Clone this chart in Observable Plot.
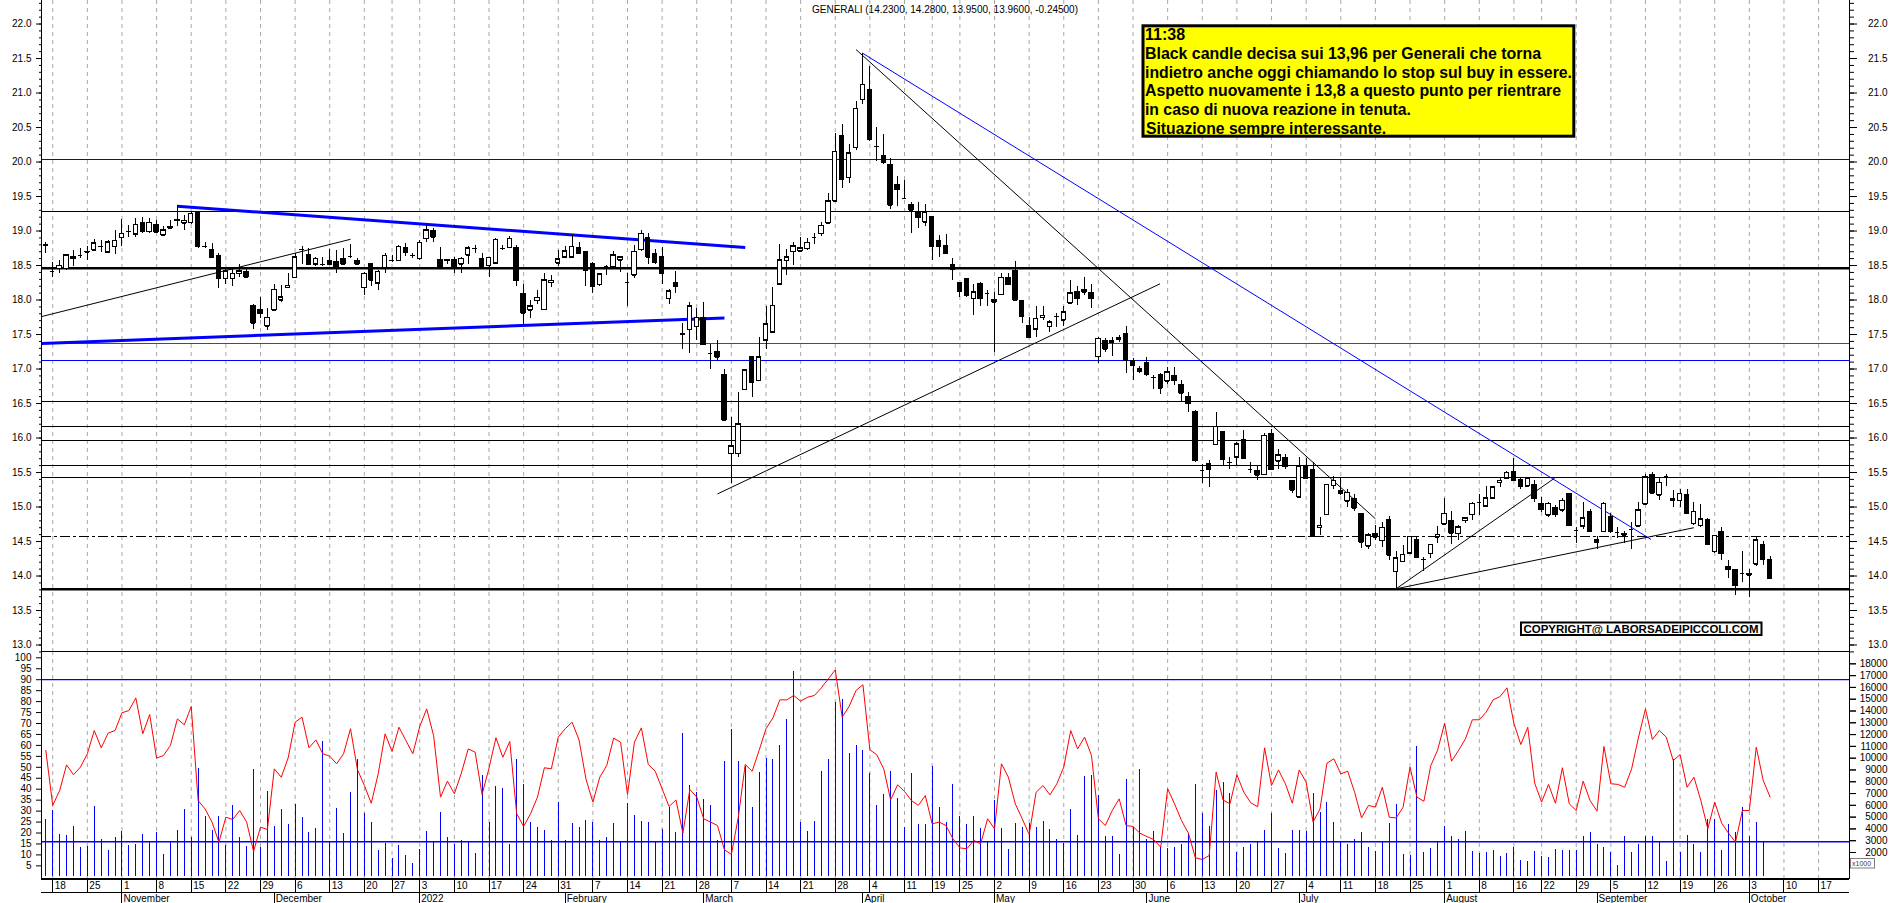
<!DOCTYPE html>
<html><head><meta charset="utf-8">
<script src="https://cdn.jsdelivr.net/npm/d3@7"></script>
<script src="https://cdn.jsdelivr.net/npm/@observablehq/plot@0.6"></script>
<style>
html,body{margin:0;padding:0;background:#fff;overflow:hidden;}
#wrap{position:relative;width:1890px;height:903px;overflow:hidden;background:#fff;font-family:"Liberation Sans",Arial,sans-serif;}
#wrap svg{position:absolute;left:0;}
</style></head><body><div id="wrap"></div>
<script>
// ---------------- DATA ----------------
const opens = [18.80,18.42,18.45,18.45,18.63,18.64,18.70,18.72,18.78,18.69,
18.77,18.90,19.00,18.95,19.11,18.99,19.09,18.94,19.06,19.15,
19.11,19.12,19.26,18.77,18.73,18.64,18.31,18.31,18.38,18.41,
17.92,17.86,17.62,17.85,18.00,18.18,18.32,18.73,18.65,18.52,
18.51,18.56,18.55,18.60,18.63,18.56,18.18,18.52,18.24,18.47,
18.57,18.57,18.76,18.64,18.60,18.89,19.00,18.58,18.58,18.58,
18.52,18.65,18.74,18.60,18.50,18.53,18.74,18.76,18.76,18.09,
17.85,17.99,17.86,18.25,18.53,18.62,18.62,18.76,18.70,18.52,
18.22,18.48,18.48,18.58,18.26,18.36,18.73,18.90,18.67,18.63,
18.02,18.25,17.51,17.57,17.61,17.74,17.23,17.24,16.92,15.77,
15.77,16.70,17.18,16.83,17.42,17.53,18.23,18.57,18.70,18.71,
18.74,18.90,18.96,19.11,19.43,20.37,19.77,20.21,20.90,21.05,
20.22,20.09,19.95,19.66,19.47,19.38,19.27,19.13,19.21,18.85,
18.79,18.51,18.25,18.31,18.02,18.23,18.09,18.00,18.08,18.32,
18.42,17.99,17.63,17.58,17.74,17.61,17.76,17.71,17.95,18.11,
18.15,18.10,17.18,17.40,17.38,17.43,17.51,17.12,17.00,17.09,
16.87,16.91,16.82,16.90,16.77,16.59,16.38,15.53,15.63,15.90,
16.09,15.64,15.72,15.97,15.54,15.52,15.47,16.06,15.66,15.71,
15.38,15.14,15.60,15.53,14.70,14.89,15.31,15.23,15.08,15.12,
14.90,14.43,14.61,14.51,14.81,14.06,14.21,14.33,14.52,14.24,
14.32,14.56,14.75,14.80,14.61,14.80,14.89,15.07,15.01,15.13,
15.35,15.42,15.51,15.39,15.30,15.32,15.05,14.88,14.99,14.95,
15.19,14.66,14.72,14.93,14.49,14.64,14.86,14.63,14.59,14.68,
14.72,15.04,15.47,15.17,15.44,15.10,15.09,15.18,14.76,14.73,
14.81,14.35,14.64,14.13,14.08,14.03,14.03,14.17,14.45,14.23];
const highs = [18.84,18.55,18.57,18.66,18.72,18.74,18.77,18.87,18.86,18.86,
19.01,19.17,19.08,19.18,19.20,19.18,19.15,19.07,19.15,19.37,
19.22,19.27,19.26,18.84,18.82,18.67,18.45,18.45,18.52,18.44,
17.93,18.04,17.87,18.23,18.21,18.38,18.67,18.77,18.74,18.62,
18.62,18.73,18.72,18.74,18.80,18.60,18.40,18.52,18.43,18.68,
18.64,18.79,18.82,18.67,18.86,19.08,19.03,18.76,18.58,18.62,
18.62,18.77,18.79,18.67,18.62,18.89,18.79,18.92,18.79,18.23,
18.00,18.14,18.38,18.36,18.72,18.77,18.95,18.83,18.70,18.55,
18.39,18.50,18.71,18.63,18.38,18.79,19.01,18.97,18.73,18.76,
18.15,18.42,17.66,17.97,17.87,17.97,17.36,17.42,16.99,16.30,
16.66,17.00,17.18,17.46,17.90,18.18,18.81,18.73,18.84,18.91,
18.89,18.96,19.13,19.54,20.41,20.54,20.26,20.88,21.57,21.38,
20.50,20.40,20.05,19.79,19.73,19.42,19.42,19.38,19.21,18.93,
18.95,18.60,18.25,18.31,18.23,18.26,18.14,18.11,18.38,18.38,
18.56,17.99,17.75,17.90,17.90,17.71,17.80,17.90,18.28,18.20,
18.32,18.23,17.45,17.44,17.45,17.49,17.62,17.15,17.03,17.16,
16.91,16.94,17.02,17.02,16.83,16.66,16.40,15.62,15.67,16.37,
16.09,15.72,15.94,16.11,15.65,15.58,16.06,16.13,15.83,15.76,
15.39,15.72,15.71,15.65,14.85,15.32,15.44,15.43,15.25,15.18,
14.91,14.61,14.73,14.77,14.86,14.35,14.44,14.57,14.57,14.27,
14.46,14.72,15.13,14.94,14.73,14.85,15.07,15.18,15.30,15.29,
15.41,15.52,15.70,15.41,15.42,15.38,15.14,15.07,15.02,15.12,
15.20,14.71,15.06,14.97,14.57,15.06,14.91,14.71,14.65,14.78,
15.06,15.47,15.50,15.43,15.47,15.24,15.25,15.25,15.06,15.03,
14.83,14.59,14.71,14.23,14.08,14.36,14.10,14.56,14.50,14.28];
const lows = [18.67,18.33,18.39,18.43,18.49,18.60,18.57,18.70,18.69,18.67,
18.66,18.77,18.90,18.91,18.97,18.96,18.96,18.94,19.03,19.06,
19.01,19.10,18.74,18.74,18.61,18.16,18.23,18.19,18.32,18.32,
17.58,17.73,17.56,17.84,17.97,18.16,18.31,18.52,18.52,18.48,
18.48,18.50,18.39,18.50,18.60,18.50,18.07,18.19,18.14,18.39,
18.55,18.56,18.63,18.60,18.58,18.84,18.84,18.47,18.52,18.39,
18.38,18.52,18.67,18.45,18.33,18.52,18.72,18.74,18.19,17.65,
17.73,17.94,17.85,18.18,18.48,18.61,18.61,18.67,18.19,18.09,
18.19,18.35,18.46,18.40,17.91,18.31,18.71,18.52,18.52,18.23,
17.94,18.09,17.29,17.22,17.41,17.34,17.00,17.11,16.24,15.34,
15.72,16.69,16.58,16.82,17.29,17.53,18.23,18.36,18.50,18.71,
18.72,18.81,18.92,19.10,19.43,19.61,19.69,20.17,20.83,20.30,
20.01,19.97,19.31,19.35,19.46,18.97,19.04,19.06,18.58,18.61,
18.68,18.28,18.04,18.04,17.78,17.90,17.90,17.24,18.07,18.21,
17.99,17.66,17.45,17.46,17.70,17.53,17.60,17.61,17.94,17.92,
18.06,17.87,17.08,17.24,17.18,17.39,16.94,16.83,16.93,16.89,
16.71,16.63,16.78,16.76,16.52,16.37,15.65,15.34,15.29,15.89,
15.59,15.55,15.59,15.70,15.48,15.38,15.46,15.54,15.55,15.55,
15.20,15.13,15.42,14.57,14.59,14.88,15.25,15.17,14.99,14.93,
14.40,14.38,14.51,14.42,14.22,13.81,14.20,14.32,14.27,14.07,
14.26,14.47,14.73,14.46,14.51,14.76,14.80,14.88,14.99,15.12,
15.28,15.41,15.37,15.25,15.29,15.07,14.92,14.85,14.85,14.92,
14.73,14.47,14.68,14.65,14.39,14.63,14.61,14.54,14.47,14.39,
14.71,15.02,15.19,15.09,15.30,15.00,15.00,14.90,14.73,14.71,
14.44,14.32,14.22,13.97,13.72,13.91,13.69,14.14,14.15,13.95];
const closes = [18.79,18.42,18.50,18.65,18.60,18.64,18.69,18.82,18.78,18.84,
18.86,18.96,19.00,19.09,18.99,19.12,18.98,19.01,19.04,19.16,
19.15,19.25,18.78,18.77,18.61,18.31,18.42,18.38,18.42,18.33,
17.66,17.80,17.74,18.15,18.04,18.21,18.62,18.73,18.52,18.60,
18.51,18.51,18.48,18.52,18.63,18.52,18.38,18.29,18.41,18.64,
18.57,18.77,18.69,18.64,18.83,19.01,18.91,18.48,18.57,18.48,
18.60,18.75,18.74,18.47,18.61,18.87,18.74,18.89,18.28,17.81,
17.91,18.03,18.29,18.28,18.59,18.71,18.77,18.68,18.43,18.20,
18.37,18.48,18.65,18.62,18.26,18.70,18.96,18.62,18.55,18.38,
18.13,18.19,17.50,17.91,17.74,17.35,17.23,17.17,16.26,15.88,
16.20,16.98,16.81,17.17,17.65,17.92,18.58,18.62,18.78,18.75,
18.83,18.90,19.08,19.43,20.15,19.74,20.13,20.77,21.12,20.32,
20.22,19.99,19.37,19.60,19.47,19.30,19.19,19.27,18.77,18.78,
18.68,18.44,18.13,18.07,18.11,18.02,18.09,17.97,18.32,18.22,
18.00,17.76,17.45,17.73,17.77,17.68,17.76,17.82,18.10,18.02,
18.11,18.02,17.44,17.29,17.40,17.45,17.12,17.05,16.97,16.92,
16.87,16.72,16.95,16.83,16.65,16.50,15.67,15.53,15.54,16.16,
15.69,15.64,15.91,15.70,15.54,15.46,16.03,15.54,15.75,15.58,
15.24,15.59,15.42,14.57,14.73,15.32,15.38,15.19,15.21,14.98,
14.49,14.59,14.56,14.70,14.30,14.26,14.31,14.57,14.27,14.24,
14.45,14.60,14.90,14.62,14.71,14.84,15.05,15.07,15.13,15.29,
15.38,15.50,15.38,15.30,15.42,15.12,14.96,15.05,14.89,15.09,
14.73,14.66,14.84,14.65,14.52,15.05,14.65,14.63,14.61,14.68,
14.95,15.43,15.20,15.35,15.44,15.12,15.19,14.90,14.93,14.82,
14.46,14.58,14.32,14.09,13.86,14.03,14.01,14.52,14.24,13.96];
const volumes = [4800,5560,3530,3440,4200,2400,2510,5900,3070,2170,
3240,3780,2590,2680,3530,2880,3730,1830,2880,3870,
5650,3300,9150,5080,3870,5080,2590,5990,3300,2510,
9040,2450,7200,4200,5650,4370,6070,5000,3700,4010,
11440,2880,5760,3640,7120,9890,5340,4570,2170,2790,
1520,2590,1750,1100,2230,3810,2930,5420,3300,2650,
3020,2880,1940,8530,4570,7630,7460,2680,9890,7770,
4570,4090,3870,3020,6240,3020,4490,4150,4710,4570,
3020,3300,4490,2900,6190,5140,4630,4570,2880,3950,
5850,3730,12120,7680,7120,6500,5990,3020,9750,12400,
9750,9290,5850,8810,10000,9860,11080,13280,17380,4570,
3810,4630,8870,9890,14750,14980,10430,11080,10650,8730,
5990,6920,8870,6610,4150,8730,4350,4370,9320,5850,
4570,7770,5080,4370,5080,4060,2880,6410,4060,2250,
4430,4150,4430,4150,4630,3950,3100,2790,5650,3440,
8450,8530,6830,3360,3360,1830,8190,4150,9040,3100,
3780,2450,2370,2450,2680,3640,7770,5340,4230,7260,
7970,6980,2030,2450,2680,2880,3870,5280,2310,1940,
3870,3870,3810,7030,5420,6270,4570,2930,2680,3100,
3730,2400,2110,2880,4430,6040,1830,1750,10990,2030,
2310,2880,4230,3360,3100,3810,2110,1890,2030,2170,
1660,1890,2450,1320,1270,2110,1690,1600,2250,2170,
2170,2170,3360,3670,2650,2450,1970,900,3360,1970,
2680,3360,3360,2880,1270,9860,1970,3440,2680,1970,
4770,4800,2170,4370,3670,5850,3360,4570,2880,null];
const oscillator = [57.7,32.6,39.4,51.1,46.6,50.1,56.2,66.8,58.9,65.6,
66.8,74.9,75.9,81.7,65.3,74.1,54.2,55.4,60.0,72.1,
69.4,77.8,34.8,31.0,25.0,15.8,27.2,26.2,30.3,25.0,
11.6,22.7,21.6,49.3,45.5,54.3,70.6,72.9,58.9,62.5,
56.2,55.1,51.6,56.2,67.6,49.0,41.7,33.6,47.0,65.3,
57.2,68.3,62.2,56.2,68.6,76.7,64.5,36.4,43.7,37.9,
47.3,58.4,56.9,37.6,49.6,63.5,54.6,61.8,28.8,23.0,
28.8,36.4,49.8,49.3,63.8,67.6,70.6,62.5,44.7,34.1,
45.5,50.8,63.3,61.5,37.6,61.5,68.0,51.3,48.2,40.2,
32.1,35.1,19.9,39.9,36.4,26.5,25.0,23.4,12.3,10.2,
27.2,51.3,48.2,57.7,67.6,72.6,80.8,80.8,82.8,80.2,
82.0,82.8,86.3,90.4,94.5,72.9,77.8,85.1,87.7,58.0,
55.7,49.3,35.1,42.0,39.0,34.8,32.6,37.1,24.2,25.0,
23.4,17.3,13.2,12.8,16.6,15.1,26.5,21.9,51.6,45.5,
33.3,26.5,19.3,38.6,41.7,37.4,42.5,50.1,66.8,58.4,
63.8,55.4,26.5,23.4,30.3,35.6,23.4,23.0,19.9,18.4,
17.0,13.5,40.2,33.3,25.7,19.9,8.7,7.9,9.7,47.8,
35.1,33.3,46.6,38.6,33.8,32.0,58.9,41.7,48.8,42.5,
33.6,48.8,43.2,25.0,31.0,51.9,53.9,47.0,48.2,38.6,
26.9,32.6,31.8,40.9,27.2,26.9,31.8,50.1,36.4,34.5,
50.8,58.0,70.1,52.8,57.7,63.0,71.7,71.7,75.2,80.8,
82.3,86.3,70.1,60.4,68.3,42.8,34.1,42.2,33.6,49.8,
33.3,30.3,43.7,34.8,30.0,59.5,42.5,42.2,40.9,49.3,
63.8,76.7,62.7,66.8,63.8,53.1,55.8,40.9,45.5,34.8,
21.9,34.1,24.5,19.9,15.8,30.3,30.3,59.2,44.0,36.4];

// horizontal price levels
const blueLevels = [20.03, 17.13];
const redLevels = [17.365];
const thinBlackLevels = [19.29, 16.525, 16.16, 15.96, 15.60, 15.43];
const thickBlackLevels = [18.46, 13.81];
const dashDotLevels = [14.57];
const oscLevels = [90, 16];
// trendlines (trading-day index, price)
const channelLines = [{i1: 19, p1: 19.36, i2: 101, p2: 18.76}, {i1: -0.62, p1: 17.37, i2: 98, p2: 17.74}];
const blueTrends = [{i1: 117.9, p1: 21.58, i2: 231.8, p2: 14.53}];
const blackTrends = [
  {i1: -0.62, p1: 17.76, i2: 44, p2: 18.88},
  {i1: 117.0, p1: 21.63, i2: 192.0, p2: 14.83},
  {i1: 97.0, p1: 15.19, i2: 160.9, p2: 18.235},
  {i1: 195.0, p1: 13.815, i2: 217.9, p2: 15.42},
  {i1: 195.0, p1: 13.815, i2: 238.0, p2: 14.70}];
const marketHolidays = ["2021-12-24","2021-12-31","2022-04-15","2022-04-18","2022-08-15"];
const monthNames = ["January","February","March","April","May","June","July","August","September","October","November","December"];
const priceTicks = d3.range(26, 45).map(v => v / 2);
const priceMinor = d3.range(129, 224).map(v => v / 10);
const oscTicks = d3.range(5, 101, 5);
const volTicks = d3.range(1000, 18001, 1000);
const volLabelTicks = d3.range(2000, 18001, 1000);

// ---------------- BUILD ----------------
const X0 = -0.621, X1 = 260.462;
const days = [];
{
  const d = new Date(Date.UTC(2021, 9, 15));
  while (days.length < 262) {
    const wd = d.getUTCDay(), iso = d.toISOString().slice(0, 10);
    if (wd !== 0 && wd !== 6 && !marketHolidays.includes(iso)) days.push(new Date(d));
    d.setUTCDate(d.getUTCDate() + 1);
  }
}
const weekIdx = d3.range(1, days.length).filter(i => i <= X1 && days[i].getUTCDay() < days[i-1].getUTCDay());
const monthIdx = d3.range(1, days.length).filter(i => i <= X1 && days[i].getUTCMonth() !== days[i-1].getUTCMonth());

const candles = opens.map((o, i) => ({i, open: o, high: highs[i], low: lows[i], close: closes[i]}));
const up = candles.filter(d => d.close >= d.open);
const down = candles.filter(d => d.close < d.open);
const vol = volumes.map((v, i) => ({i, v})).filter(d => d.v != null);
const osc = oscillator.map((r, i) => ({i, r}));

const FONT = '"Liberation Sans", Arial, sans-serif';
const baseStyle = `background:transparent;overflow:visible;font-family:${FONT};font-size:10px;color:#000;`;
const grid = {stroke: "#a8a8a8", strokeDasharray: "4,4"};
const hw = 0.32;

const main = Plot.plot({
  width: 1890, height: 651, marginLeft: 41, marginRight: 41, marginTop: 0, marginBottom: 0,
  style: baseStyle,
  x: {domain: [X0, X1], axis: null},
  y: {domain: [12.906, 22.341], axis: null, label: null},
  marks: [
    Plot.ruleX(weekIdx, grid),
    Plot.ruleY(blueLevels, {stroke: "#0000ff", shapeRendering: "crispEdges"}),
    Plot.ruleY(redLevels, {stroke: "#ff0000", shapeRendering: "crispEdges"}),
    Plot.ruleY(thinBlackLevels, {stroke: "#000", shapeRendering: "crispEdges"}),
    Plot.ruleY(thickBlackLevels, {stroke: "#000", strokeWidth: 2.5}),
    Plot.ruleY(dashDotLevels, {stroke: "#000", strokeDasharray: "10,3,3,3", shapeRendering: "crispEdges"}),
    Plot.link(channelLines, {x1: "i1", y1: "p1", x2: "i2", y2: "p2", stroke: "#0000ff", strokeWidth: 3}),
    Plot.link(blueTrends, {x1: "i1", y1: "p1", x2: "i2", y2: "p2", stroke: "#0000ff", strokeWidth: 1}),
    Plot.link(blackTrends, {x1: "i1", y1: "p1", x2: "i2", y2: "p2", stroke: "#000", strokeWidth: 1}),
    Plot.ruleX(candles, {x: "i", y1: "low", y2: "high", stroke: "#000", shapeRendering: "crispEdges"}),
    Plot.rect(up, {x1: d => d.i - hw, x2: d => d.i + hw, y1: "open", y2: "close", fill: "#fff", stroke: "#000", shapeRendering: "crispEdges"}),
    Plot.rect(down, {x1: d => d.i - hw, x2: d => d.i + hw, y1: "open", y2: "close", fill: "#000", stroke: "#000", shapeRendering: "crispEdges"}),
    Plot.ruleY(candles, {y: "close", x1: d => d.i - hw, x2: d => d.i + hw, stroke: "#000", shapeRendering: "crispEdges"}),
    Plot.ruleY(candles, {y: "open", x1: d => d.i - hw, x2: d => d.i + hw, stroke: "#000", shapeRendering: "crispEdges"}),
    Plot.axisY({anchor: "left", ticks: priceTicks, tickFormat: d => d.toFixed(1), tickSize: 5, tickPadding: 5, label: null}),
    Plot.axisY({anchor: "left", ticks: priceMinor, tickFormat: () => "", tickSize: 2, label: null}),
    Plot.axisY({anchor: "right", ticks: priceTicks, tickFormat: d => d.toFixed(1), tickSize: 7, tickPadding: 31, textAnchor: "end", label: null}),
    Plot.axisY({anchor: "right", ticks: priceMinor, tickFormat: () => "", tickSize: 4, label: null}),
    Plot.ruleX([X0, X1], {stroke: "#000", shapeRendering: "crispEdges"})
  ]
});

const volPlot = Plot.plot({
  width: 1890, height: 252, marginLeft: 41, marginRight: 41, marginTop: 0, marginBottom: 25,
  style: baseStyle,
  x: {domain: [X0, X1], axis: null},
  y: {domain: [-204, 19046], axis: null, label: null},
  marks: [
    Plot.ruleX(weekIdx, grid),
    Plot.ruleX(vol, {x: "i", y1: 0, y2: "v", stroke: "#0000ff", shapeRendering: "crispEdges"}),
    Plot.axisY({anchor: "right", ticks: volTicks, tickFormat: () => "", tickSize: 6, label: null}),
    Plot.axisY({anchor: "right", ticks: volLabelTicks, tickFormat: d => String(d), tickSize: 6, tickPadding: 32, textAnchor: "end", label: null})
  ]
});

const oscPlot = Plot.plot({
  width: 1890, height: 252, marginLeft: 41, marginRight: 41, marginTop: 0, marginBottom: 25,
  style: baseStyle,
  x: {domain: [X0, X1], axis: null},
  y: {domain: [-0.77, 102.88], axis: null, label: null},
  marks: [
    Plot.ruleY(oscLevels, {stroke: "#0000ff", strokeWidth: 1.3}),
    Plot.line(osc, {x: "i", y: "r", stroke: "#ff0000", strokeWidth: 1}),
    Plot.axisY({anchor: "left", ticks: oscTicks, tickSize: 5, tickPadding: 5, label: null}),
    Plot.frame({stroke: "#000", shapeRendering: "crispEdges"})
  ]
});

const dateAxis = Plot.plot({
  width: 1890, height: 25, marginLeft: 41, marginRight: 41, marginTop: 0, marginBottom: 0,
  style: baseStyle,
  x: {domain: [X0, X1], axis: null},
  y: {domain: [0, 25], reverse: true, axis: null},
  marks: [
    Plot.ruleY([0.5, 13.7], {x1: X0, x2: X1, stroke: "#000", shapeRendering: "crispEdges"}),
    Plot.ruleX(weekIdx, {y1: 0, y2: 13.7, stroke: "#000", shapeRendering: "crispEdges"}),
    Plot.text(weekIdx, {x: d => d, y: 7, text: d => String(days[d].getUTCDate()), textAnchor: "start", dx: 2, fontSize: 10}),
    Plot.ruleX(monthIdx, {y1: 13.7, y2: 25, stroke: "#000", shapeRendering: "crispEdges"}),
    Plot.text(monthIdx, {x: d => d, y: 19.8, text: d => days[d].getUTCMonth() === 0 ? String(days[d].getUTCFullYear()) : monthNames[days[d].getUTCMonth()], textAnchor: "start", dx: 1.5, fontSize: 10})
  ]
});

const wrap = document.getElementById("wrap");
[[main, 0], [volPlot, 651], [oscPlot, 651], [dateAxis, 878]].forEach(([svg, top]) => {
  svg.style.position = "absolute"; svg.style.left = "0px"; svg.style.top = top + "px";
  wrap.appendChild(svg);
});

// annotations
const notes = d3.select(wrap).append("svg").attr("width", 1890).attr("height", 903)
  .style("position", "absolute").style("left", "0px").style("top", "0px")
  .attr("font-family", FONT);
notes.append("text").attr("x", 945).attr("y", 12.5).attr("text-anchor", "middle").attr("font-size", 10)
  .attr("textLength", 266).attr("lengthAdjust", "spacingAndGlyphs")
  .text("GENERALI (14.2300, 14.2800, 13.9500, 13.9600, -0.24500)");
notes.append("rect").attr("x", 1143).attr("y", 25.8).attr("width", 430.8).attr("height", 110.4)
  .attr("fill", "#ffff00").attr("stroke", "#000").attr("stroke-width", 3);
const noteLines = [
  ["11:38", 1145, 40, null],
  ["Black candle decisa sui 13,96 per Generali che torna", 1145, 58.8, 396],
  ["indietro anche oggi chiamando lo stop sul buy in essere.", 1145, 77.6, 427],
  ["Aspetto nuovamente i 13,8 a questo punto per rientrare", 1145, 96.4, 416],
  ["in caso di nuova reazione in tenuta.", 1145, 115.2, 266],
  ["Situazione sempre interessante.", 1146, 134, 240]
];
noteLines.forEach(([t, x, y, w]) => {
  const el = notes.append("text").attr("x", x).attr("y", y).attr("font-size", 16).attr("font-weight", "bold").text(t);
  if (w) el.attr("textLength", w).attr("lengthAdjust", "spacingAndGlyphs");
});
notes.append("rect").attr("x", 1521).attr("y", 622.5).attr("width", 240.5).attr("height", 12.5)
  .attr("fill", "#fff").attr("stroke", "#000").attr("stroke-width", 2);
notes.append("text").attr("x", 1523.5).attr("y", 632.6).attr("font-size", 11).attr("font-weight", "bold")
  .attr("textLength", 235).attr("lengthAdjust", "spacingAndGlyphs").text("COPYRIGHT@ LABORSADEIPICCOLI.COM");
notes.append("rect").attr("x", 1850.5).attr("y", 858.5).attr("width", 24).attr("height", 9.5)
  .attr("fill", "#fff").attr("stroke", "#808080").attr("stroke-width", 1);
notes.append("text").attr("x", 1852).attr("y", 866).attr("font-size", 7).attr("fill", "#404040").text("x1000");
</script></body></html>
